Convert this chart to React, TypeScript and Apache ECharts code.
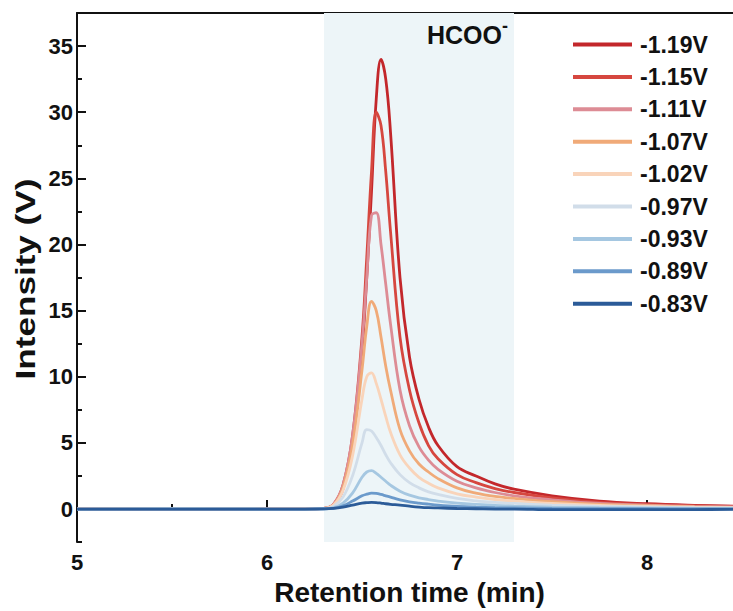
import React, { useEffect, useRef } from "react";
import * as echarts from "echarts";

const times = [5.0, 5.5, 6.0, 6.2, 6.3, 6.35, 6.4, 6.45, 6.5, 6.525, 6.55, 6.575, 6.6, 6.625, 6.65, 6.7, 6.75, 6.8, 6.85, 6.9, 7.0, 7.1, 7.2, 7.3, 7.5, 7.75, 8.0, 8.25, 8.5];

const seriesNames = ["-1.19V", "-1.15V", "-1.11V", "-1.07V", "-1.02V", "-0.97V", "-0.93V", "-0.89V", "-0.83V"];
const seriesColors = ["#c3272b", "#d6473f", "#dd8c95", "#f0aa78", "#f9d4ba", "#d1dde9", "#a5c7e1", "#6b9acb", "#2b5b98"];

const v119 = [0, 0.02, 0, 0, 0.05, 0.3, 1.5, 5, 12, 17.5, 24, 31, 34, 32.5, 28.5, 17.5, 11.5, 8.3, 6.2, 4.8, 3.2, 2.5, 1.9, 1.5, 1.0, 0.6, 0.4, 0.28, 0.2];
const v115 = [0, 0.02, 0, 0, 0.05, 0.35, 1.8, 5.5, 13, 19, 25.5, 30, 29, 25.5, 21, 13, 9, 6.5, 4.8, 3.8, 2.6, 2.0, 1.55, 1.25, 0.85, 0.5, 0.35, 0.25, 0.18];
const v111 = [0, 0.02, 0, 0, 0.05, 0.35, 1.8, 5.5, 12.5, 17.5, 22.2, 22.4, 20, 17, 14, 9, 6.3, 4.7, 3.7, 3.0, 2.1, 1.6, 1.25, 1.0, 0.7, 0.42, 0.3, 0.2, 0.15];
const v107 = [0, 0.02, 0, 0, 0.05, 0.3, 1.6, 4.8, 10.5, 13.8, 15.7, 15, 13, 10.8, 9, 6, 4.4, 3.4, 2.8, 2.3, 1.6, 1.2, 0.95, 0.8, 0.55, 0.35, 0.25, 0.17, 0.12];
const v102 = [0, 0.02, 0, 0, 0.05, 0.3, 1.4, 4.0, 8.3, 10.0, 10.3, 9.5, 8.3, 7.0, 5.8, 4.1, 3.1, 2.4, 1.95, 1.6, 1.15, 0.9, 0.72, 0.6, 0.42, 0.28, 0.2, 0.14, 0.1];
const v097 = [0, 0.02, 0, 0, 0.03, 0.2, 0.9, 2.5, 5.0, 6.0, 5.9, 5.4, 4.8, 4.1, 3.5, 2.6, 2.0, 1.6, 1.3, 1.1, 0.8, 0.62, 0.5, 0.42, 0.3, 0.2, 0.15, 0.1, 0.08];
const v093 = [0, 0.01, 0, 0, 0.02, 0.1, 0.45, 1.2, 2.4, 2.8, 2.9, 2.7, 2.4, 2.1, 1.8, 1.35, 1.05, 0.85, 0.72, 0.6, 0.45, 0.35, 0.28, 0.22, 0.15, 0.1, 0.07, 0.05, 0.04];
const v089 = [0, 0, 0, 0, 0.01, 0.05, 0.25, 0.6, 1.0, 1.12, 1.2, 1.18, 1.1, 1.0, 0.9, 0.7, 0.55, 0.45, 0.37, 0.3, 0.2, 0.14, 0.1, 0.08, 0.05, 0.03, 0.02, 0.01, 0.01];
const v083 = [0, 0, 0, 0, 0.01, 0.05, 0.15, 0.3, 0.45, 0.48, 0.5, 0.49, 0.45, 0.4, 0.36, 0.3, 0.22, 0.15, 0.1, 0.08, 0.04, 0.02, 0.0, 0.0, -0.05, -0.05, -0.05, -0.04, -0.03];

const seriesValues = [v119, v115, v111, v107, v102, v097, v093, v089, v083];

const xMin = 5;
const xMax = 8.5;
const yMin = -2.5;
const yMax = 37.5;
const shadeRange = [6.3, 7.3];

const FONT = "'Liberation Sans', Arial, sans-serif";

export default function App() {
  const ref = useRef<HTMLDivElement>(null);
  useEffect(() => {
    if (!ref.current) return;
    const chart = echarts.init(ref.current, null, { renderer: "svg" });
    const series: any[] = seriesNames.map((name, i) => ({
      name,
      type: "line",
      xAxisIndex: 0,
      yAxisIndex: 0,
      data: times.map((t, j) => [t, seriesValues[i][j]]),
      showSymbol: false,
      smooth: 0.4,
      lineStyle: { color: seriesColors[i], width: 2.8 },
      itemStyle: { color: seriesColors[i] },
      z: 3 + i,
      ...(i === 0
        ? {
            markArea: {
              silent: true,
              itemStyle: { color: "#edf5f8" },
              data: [[{ xAxis: shadeRange[0] }, { xAxis: shadeRange[1] }]],
              z: 1,
            },
          }
        : {}),
    }));
    chart.setOption({
      animation: false,
      backgroundColor: "#ffffff",
      textStyle: { fontFamily: FONT },
      grid: { left: 77, top: 13, width: 665, height: 535, containLabel: false },
      legend: {
        orient: "vertical",
        left: 573,
        top: 33,
        padding: 0,
        icon: "rect",
        itemWidth: 59,
        itemHeight: 4,
        itemGap: 9.4,
        data: seriesNames,
        textStyle: { fontFamily: FONT, fontWeight: "bold", fontSize: 23, color: "#111", padding: [0, 0, 0, 3] },
      },
      xAxis: [
        {
          type: "value",
          min: xMin,
          max: xMax,
          interval: 1,
          axisLine: { show: true, lineStyle: { color: "#111", width: 2 } },
          axisTick: { show: true, inside: true, length: 9, lineStyle: { color: "#111", width: 2 } },
          minorTick: { show: true, splitNumber: 2, length: 5, lineStyle: { color: "#111", width: 2 } },
          splitLine: { show: false },
          minorSplitLine: { show: false },
          axisLabel: { fontFamily: FONT, fontWeight: "bold", fontSize: 22, color: "#111", margin: 9, showMaxLabel: false },
          name: "Retention time (min)",
          nameLocation: "middle",
          nameGap: 31,
          nameTextStyle: { fontFamily: FONT, fontWeight: "bold", fontSize: 28, color: "#111" },
        },
        {
          type: "value",
          position: "top",
          min: xMin,
          max: xMax,
          axisLine: { show: true, onZero: false, lineStyle: { color: "#111", width: 2 } },
          axisTick: { show: false },
          axisLabel: { show: false },
          splitLine: { show: false },
        },
      ],
      yAxis: [
        {
          type: "value",
          min: yMin,
          max: yMax,
          splitNumber: 8,
          axisLine: { show: true, onZero: false, lineStyle: { color: "#111", width: 2 } },
          axisTick: { show: true, inside: true, length: 9, lineStyle: { color: "#111", width: 2 } },
          splitLine: { show: false },
          axisLabel: { fontFamily: FONT, fontWeight: "bold", fontSize: 22, color: "#111", margin: 4, showMinLabel: false, showMaxLabel: false },
        },
        {
          type: "value",
          position: "left",
          min: yMin,
          max: yMax,
          interval: 5,
          axisLine: { show: false },
          axisTick: { show: true, inside: true, length: 5, lineStyle: { color: "#111", width: 2 } },
          axisLabel: { show: false },
          splitLine: { show: false },
        },
      ],
      graphic: [
        {
          type: "text",
          x: 26,
          y: 279,
          rotation: Math.PI / 2,
          scaleX: 1.3,
          style: {
            text: "Intensity (V)",
            fontFamily: FONT,
            fontWeight: "bold",
            fontSize: 27,
            fill: "#111",
            align: "center",
            verticalAlign: "middle",
          },
          z: 20,
        },
        {
          type: "text",
          left: 427,
          top: 22,
          style: { text: "HCOO", fontFamily: FONT, fontWeight: "bold", fontSize: 25, fill: "#111" },
          z: 20,
        },
        {
          type: "text",
          left: 502,
          top: 17,
          style: { text: "-", fontFamily: FONT, fontWeight: "bold", fontSize: 18, fill: "#111" },
          z: 20,
        },
      ],
      series,
    });
    return () => chart.dispose();
  }, []);
  return (
    <div style={{ position: "fixed", left: 0, top: 0, width: 733, height: 611, overflow: "hidden", background: "#fff" }}>
      <div ref={ref} style={{ width: 780, height: 611 }} />
    </div>
  );
}
